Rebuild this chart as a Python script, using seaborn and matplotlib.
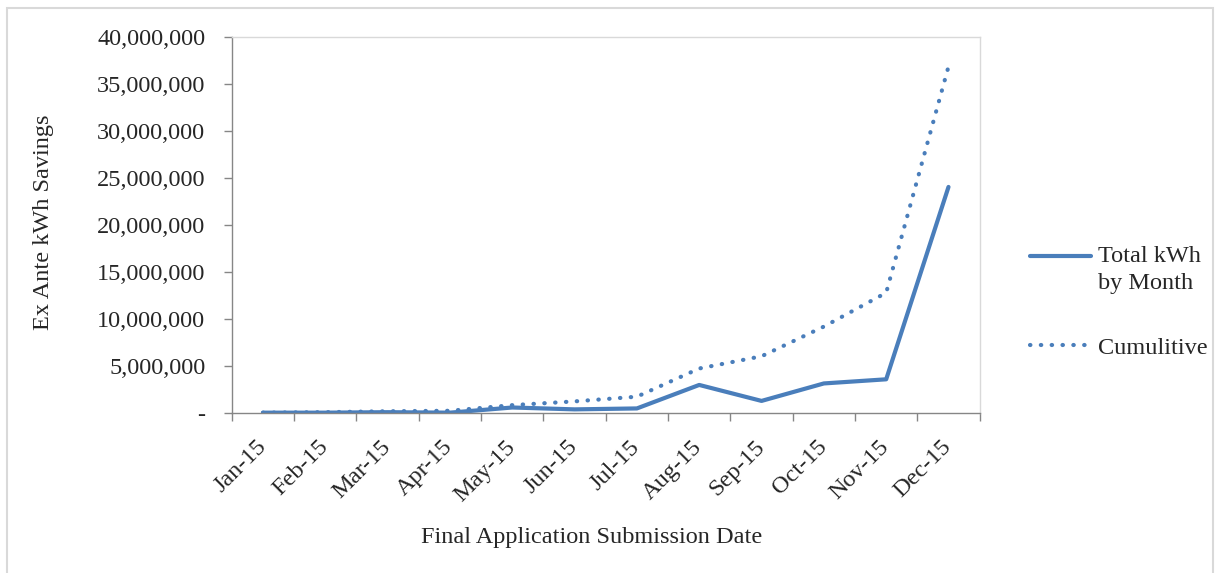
import matplotlib
matplotlib.use("Agg")
import matplotlib.pyplot as plt
from matplotlib import patches
from matplotlib.ticker import FuncFormatter, FixedLocator
import pandas as pd
import seaborn as sns

months = ["Jan-15", "Feb-15", "Mar-15", "Apr-15", "May-15", "Jun-15",
          "Jul-15", "Aug-15", "Sep-15", "Oct-15", "Nov-15", "Dec-15"]
total_kwh = [50000, 50000, 100000, 50000, 600000, 400000,
             500000, 3000000, 1300000, 3160000, 3600000, 24070000]
cumulative = [50000, 100000, 200000, 250000, 850000, 1250000,
              1750000, 4750000, 6050000, 9210000, 12810000, 36880000]

sns.set_style("white")
plt.rcParams['font.family'] = ['Liberation Serif', 'DejaVu Serif']
fs = 17.5

blue = "#4A7EBB"
df = pd.DataFrame({"pos": range(len(months)), "total": total_kwh, "cum": cumulative})

fig = plt.figure(figsize=(12.2, 5.73), dpi=100)
ax = fig.add_axes([0.190, 0.279, 0.613, 0.656])

sns.lineplot(data=df, x="pos", y="total", ax=ax, color=blue, linewidth=3.0,
             label="Total kWh\nby Month", solid_capstyle="round")
sns.lineplot(data=df, x="pos", y="cum", ax=ax, color=blue, linewidth=3.0,
             linestyle=(0, (0.1, 2.5)), dash_capstyle="round", label="Cumulitive")

ax.set_xlim(-0.5, len(months) - 0.5)
ax.set_ylim(0, 40000000)
ax.set_yticks(range(0, 40000001, 5000000))
ax.yaxis.set_major_formatter(FuncFormatter(lambda v, p: "-" if v == 0 else f"{int(v):,}"))

ax.set_xticks(range(len(months)))
ax.set_xticklabels(months, rotation=45, ha="right", va="center", rotation_mode="anchor")
ax.xaxis.set_minor_locator(FixedLocator([i - 0.5 for i in range(len(months) + 1)]))
ax.tick_params(axis="x", which="major", length=0, pad=22, labelsize=fs)
ax.tick_params(axis="x", which="minor", length=6, width=1, color="#868686", direction="out", bottom=True)
ax.tick_params(axis="y", length=6, width=1, color="#868686", direction="out", left=True, labelsize=fs, pad=13)

for s in ["left", "bottom"]:
    ax.spines[s].set_color("#868686")
    ax.spines[s].set_linewidth(1)
for s in ["top", "right"]:
    ax.spines[s].set_color("#D9D9D9")
    ax.spines[s].set_linewidth(1)

ax.set_xlabel("Final Application Submission Date", fontsize=fs)
ax.xaxis.set_label_coords(0.481, -0.303)
ax.set_ylabel("Ex Ante kWh Savings", fontsize=fs)
ax.yaxis.set_label_coords(-0.238, 0.508)

leg = ax.legend(loc="center left", bbox_to_anchor=(1.051, 0.295), frameon=False,
                fontsize=fs, handlelength=2.5, handletextpad=0.3, labelspacing=1.75,
                borderpad=0)
for t in leg.get_texts():
    t.set_linespacing(1.4)
# Excel puts the line level with the first row of a two-row label
h0 = leg.legend_handles[0]
h0.set_ydata([v + 10 for v in h0.get_ydata()])
h0.set_clip_on(False)

fig.patches.append(patches.Rectangle((0.006, -0.01), 0.988, 0.996, transform=fig.transFigure,
                                     fill=False, edgecolor="#D9D9D9", linewidth=1.5))

plt.savefig("out.png", dpi=100)
